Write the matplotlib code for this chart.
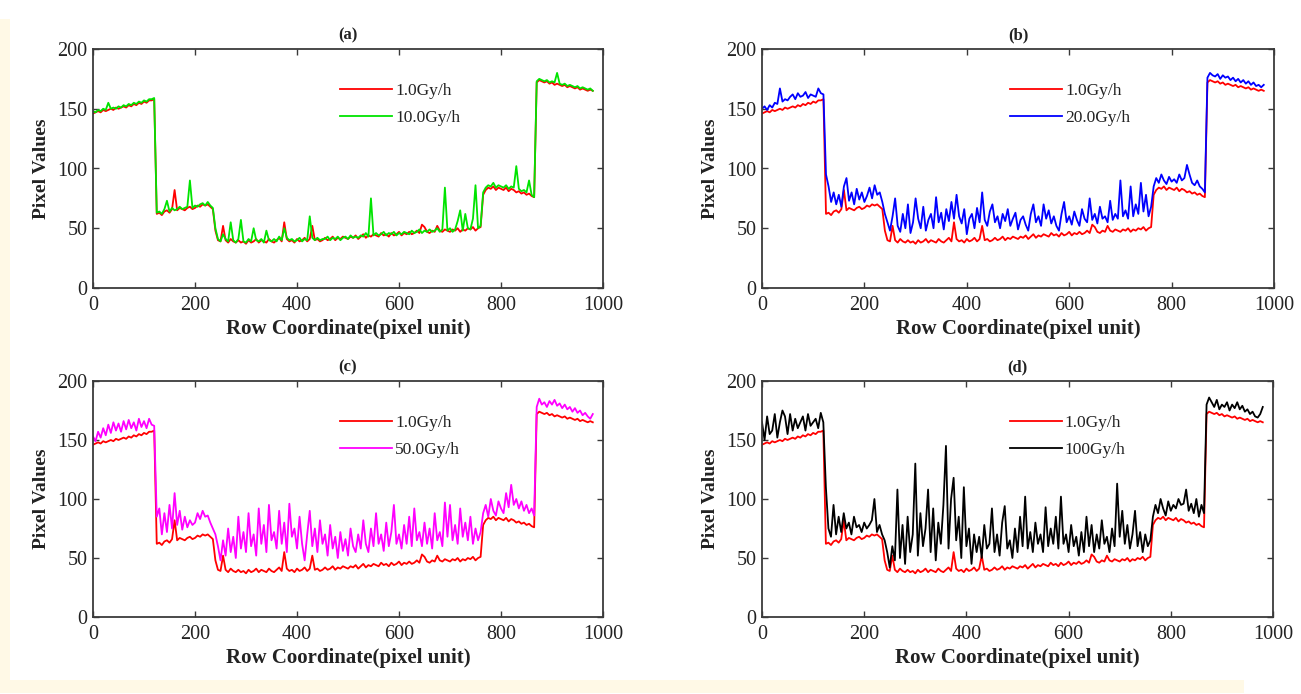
import numpy as np
import matplotlib
matplotlib.use("Agg")
import matplotlib.pyplot as plt
from matplotlib.patches import Rectangle

plt.rcParams['font.family'] = ['Liberation Serif', 'DejaVu Serif']

# ---------------- data ----------------
row_coord = np.arange(0, 985, 5)   # row coordinate (pixel unit)

dose_1 = [
    146, 147, 148, 147, 149, 148, 149, 150, 149, 151, 150, 151, 152, 151, 153, 152, 154, 153, 155, 154,
    156, 155, 157, 157, 158,
    62, 63, 61, 64, 65, 63, 66, 82, 65, 67, 66, 65, 67, 68, 66, 67, 69, 68, 70, 69, 70, 68, 66,
    48, 40, 39, 52, 40, 38, 41, 39, 38, 40,
    38, 39, 37, 40, 38, 39, 41, 38, 40, 39,
    38, 41, 39, 38, 40, 42, 39, 55, 41, 39,
    40, 38, 41, 39, 40, 42, 39, 41, 52, 40,
    41, 39, 40, 42, 40, 41, 43, 40, 42, 41,
    43, 42, 41, 43, 42, 44, 41, 43, 45, 42,
    44, 43, 45, 44, 43, 46, 44, 45, 43, 46,
    44, 45, 47, 44, 46, 45, 47, 45, 46, 48,
    46, 53, 51, 47, 46, 48, 47, 52, 48, 47,
    49, 48, 47, 49, 48, 50, 47, 49, 48, 50,
    49, 51, 48, 50, 51,
    78, 82, 84, 83, 85, 82, 84, 83, 82, 84, 81, 83, 82, 80, 81, 79, 80, 78, 79, 77, 76,
    172, 174, 173, 172, 173, 171, 172, 170, 171, 170, 169, 170, 168, 169, 168, 167, 168, 166, 167, 166,
    165, 166, 165,
]

dose_10 = [
    148, 147, 149, 148, 150, 149, 155, 150, 151, 150, 152, 151, 153, 152, 154, 153, 155, 154, 156, 155,
    157, 156, 158, 158, 159,
    63, 64, 62, 66, 73, 64, 67, 65, 66, 68, 66, 67, 68, 90, 67, 69, 68, 70, 71, 69, 72, 69, 67,
    50, 41, 39, 45, 41, 39, 55, 40, 38, 41,
    57, 39, 38, 41, 39, 50, 40, 39, 41, 38,
    48, 40, 39, 41, 39, 43, 40, 50, 42, 40,
    41, 39, 40, 42, 39, 41, 40, 60, 42, 40,
    42, 40, 41, 41, 43, 40, 42, 41, 43, 40,
    42, 43, 41, 44, 42, 43, 42, 44, 43, 46,
    43, 75, 44, 46, 44, 45, 47, 44, 46, 45,
    47, 44, 46, 45, 47, 46, 45, 48, 46, 47,
    49, 46, 48, 47, 49, 47, 48, 50, 47, 49,
    84, 48, 50, 47, 49, 56, 65, 48, 62, 50,
    49, 58, 86, 50, 52,
    80, 84, 86, 85, 88, 84, 86, 85, 84, 86, 83, 85, 84, 102, 83, 81, 82, 80, 90, 78, 76,
    173, 175, 174, 173, 174, 172, 173, 172, 180, 171, 170, 171, 169, 170, 169, 168, 169, 167, 168, 167,
    166, 167, 165,
]

dose_20 = [
    150, 152, 149, 153, 151, 155, 154, 167, 156, 158, 157, 160, 162, 158, 163, 160, 161, 164, 159, 162,
    161, 160, 167, 163, 162,
    95, 85, 72, 80, 70, 78, 68, 85, 92, 73, 80, 70, 83, 74, 80, 72, 77, 84, 75, 86, 78, 80, 72,
    62, 55, 48, 60, 75, 52, 47, 62, 50, 70,
    46, 55, 75, 58, 50, 68, 48, 57, 62, 50,
    76, 55, 63, 49, 66, 56, 72, 58, 78, 60,
    54, 66, 45, 58, 62, 50, 67, 55, 80, 57,
    52, 64, 70, 55, 60, 50, 62, 56, 66, 52,
    58, 63, 49, 57, 60, 53, 48, 62, 70, 55,
    60, 52, 70, 58, 65, 54, 60, 52, 48, 62,
    72, 55, 60, 53, 64, 57, 52, 66, 58, 55,
    75, 57, 62, 54, 68, 58, 60, 55, 73, 57,
    62, 58, 90, 60, 65, 58, 85, 60, 70, 62,
    88, 64, 78, 60, 68,
    85, 92, 88, 95, 90, 87, 93, 89, 91, 88, 95, 90, 92, 103, 95, 88, 86, 90, 85, 83, 80,
    176, 180, 178, 177, 179, 175, 178, 176, 177, 174, 176, 173, 175, 172, 174, 171, 173, 170, 172, 169,
    170, 168, 170,
]

dose_50 = [
    153, 149, 157, 152, 160, 154, 163, 156, 165, 158, 164, 157, 166, 159, 167, 160, 165, 158, 168, 161,
    166, 160, 168, 163, 162,
    85, 92, 70, 88, 72, 95, 75, 105, 78, 90, 74, 85, 76, 82, 78, 80, 88, 83, 90, 85, 86, 80, 75,
    70, 60, 48, 65, 52, 75, 55, 68, 50, 85,
    58, 72, 55, 88, 60, 70, 52, 92, 62, 78,
    55, 95, 65, 72, 58, 90, 62, 80, 55, 96,
    68, 75, 58, 85, 62, 48, 70, 90, 60, 75,
    55, 82, 62, 70, 52, 78, 58, 68, 50, 72,
    56, 66, 52, 75, 60, 55, 70, 58, 82, 62,
    55, 75, 60, 88, 62, 70, 56, 80, 60, 72,
    95, 62, 70, 58, 78, 62, 85, 60, 92, 65,
    72, 60, 80, 62, 75, 58, 88, 65, 72, 60,
    97, 68, 95, 65, 78, 62, 92, 68, 80, 65,
    85, 62, 75, 65, 72,
    88, 95, 85, 100, 90, 86, 98, 92, 88, 105, 93, 112, 95, 100, 92, 98, 90, 95, 88, 92, 86,
    178, 185, 180, 182, 178, 183, 180, 184, 179, 181, 177, 180, 176, 178, 174, 177, 173, 175, 171, 173,
    170, 168, 172,
]

dose_100 = [
    165, 150, 170, 155, 158, 172, 152, 165, 175, 170, 155, 172, 158, 168, 160, 165, 170, 158, 172, 162,
    165, 168, 160, 173, 165,
    110, 75, 68, 95, 70, 85, 72, 88, 75, 80, 70, 85, 76, 78, 72, 80, 75, 78, 82, 100, 72, 78, 70,
    65, 55, 42, 60, 48, 108, 50, 78, 45, 85,
    55, 70, 130, 52, 88, 60, 75, 108, 55, 92,
    48, 80, 62, 95, 145, 58, 100, 118, 65, 85,
    50, 110, 60, 75, 45, 70, 55, 68, 50, 78,
    58, 62, 92, 55, 70, 52, 80, 94, 58, 65,
    50, 75, 55, 85, 60, 102, 58, 72, 55, 80,
    62, 70, 55, 93, 60, 75, 62, 85, 58, 102,
    62, 70, 55, 78, 60, 68, 52, 72, 55, 85,
    60, 78, 55, 70, 58, 82, 62, 68, 55, 75,
    60, 113, 68, 90, 62, 78, 58, 70, 90, 60,
    72, 55, 70, 60, 65,
    85, 95, 88, 100, 92, 86, 98, 90, 95, 92, 100, 95, 96, 108, 90, 96, 88, 100, 85, 95, 88,
    180, 186, 182, 178, 184, 176, 180, 178, 182, 175, 180, 177, 182, 176, 179, 174, 176, 172, 174, 170,
    169, 172, 178,
]

panel_titles = ['(a)', '(b)', '(c)', '(d)']
ref_label = '1.0Gy/h'
cmp_labels = ['10.0Gy/h', '20.0Gy/h', '50.0Gy/h', '100Gy/h']
cmp_series = [dose_10, dose_20, dose_50, dose_100]
cmp_colors = ['#00E400', '#0000FF', '#FF00FF', '#000000']
ref_color = '#FF0000'

x_ticks = [0, 200, 400, 600, 800, 1000]
y_ticks = [0, 50, 100, 150, 200]

lens = [len(s) for s in [dose_1] + cmp_series]
if any(n != len(row_coord) for n in lens):
    raise ValueError(f"length mismatch {lens} vs {len(row_coord)}")

# ---------------- figure ----------------
W, H = 1301, 694
fig = plt.figure(figsize=(W / 100, H / 100), dpi=100, facecolor='white')

cream = '#FFF9E6'
fig.patches.append(Rectangle((0, 1 / H), 10 / W, 674 / H, transform=fig.transFigure,
                             facecolor=cream, edgecolor='none', zorder=-10))
fig.patches.append(Rectangle((0, 1 / H), 1244 / W, 13 / H, transform=fig.transFigure,
                             facecolor=cream, edgecolor='none', zorder=-10))

boxes = [
    (93, 49, 603, 288),
    (762, 49, 1274, 288),
    (93, 381, 603, 617),
    (762, 381, 1273, 617),
]

spine_col = '#3a3a3a'
text_col = '#222222'

for i, (l, t, r, b) in enumerate(boxes):
    ax = fig.add_axes([l / W, (H - b) / H, (r - l) / W, (b - t) / H])
    ax.set_facecolor('white')
    ax.plot(row_coord, dose_1, color=ref_color, lw=1.3, label=ref_label)
    ax.plot(row_coord, cmp_series[i], color=cmp_colors[i], lw=1.3, label=cmp_labels[i])
    ax.set_xlim(0, 1000)
    ax.set_ylim(0, 200)
    ax.set_xticks(x_ticks)
    ax.set_yticks(y_ticks)
    ax.tick_params(direction='in', top=True, right=True, length=4, width=1.0,
                   colors=spine_col, labelcolor=text_col, labelsize=14.5)
    ax.tick_params(axis='x', pad=6)
    ax.tick_params(axis='y', pad=4)
    for s in ax.spines.values():
        s.set_color(spine_col)
        s.set_linewidth(1.3)
    ax.set_title(panel_titles[i], fontsize=12, fontweight='bold', color=text_col, pad=7)
    ax.set_xlabel('Row Coordinate(pixel unit)', fontsize=15, fontweight='bold',
                  color=text_col, labelpad=3)
    ax.set_ylabel('Pixel Values', fontsize=14, fontweight='bold', color=text_col, labelpad=5)
    leg = ax.legend(loc='upper left', bbox_to_anchor=(0.485, 0.857), frameon=False,
                    fontsize=12.5, handlelength=3.0, handletextpad=0.15, labelspacing=0.62,
                    borderpad=0, borderaxespad=0)
    for txt in leg.get_texts():
        txt.set_color(text_col)

fig.savefig('out.png', dpi=100, facecolor=fig.get_facecolor())
